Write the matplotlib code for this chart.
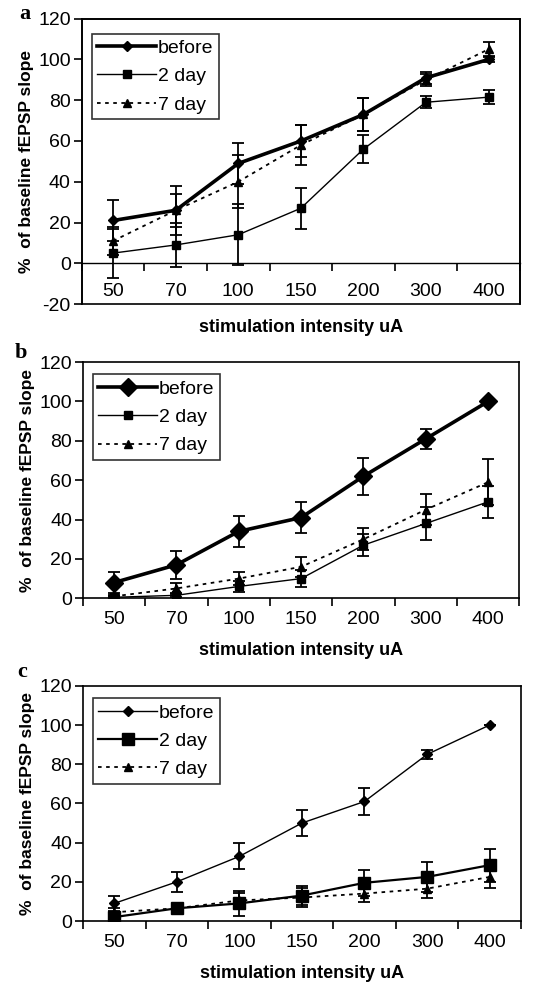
import matplotlib
matplotlib.use("Agg")
import matplotlib.pyplot as plt
import numpy as np

plt.rcParams['font.family'] = ['Liberation Sans', 'DejaVu Sans']
plt.rcParams['axes.unicode_minus'] = False

intensity = ['50', '70', '100', '150', '200', '300', '400']

# panel a
a_before = [21, 26, 49, 60, 73, 91, 100]
a_before_err = [10, 12, 10, 8, 8, 3, 1]
a_2day = [5, 9, 14, 27, 56, 79, 81.5]
a_2day_err = [12, 11, 15, 10, 7, 3, 3.5]
a_7day = [11, 26, 40, 58, 73, 90, 105]
a_7day_err = [7, 8, 13, 10, 8, 3, 3.5]

# panel b
b_before = [8, 17, 34, 41, 62, 81, 100]
b_before_err = [5.5, 7, 8, 8, 9.5, 5, 0]
b_2day = [0.5, 1.5, 6, 10, 27, 38, 49]
b_2day_err = [0.5, 1, 3, 4.3, 5.7, 8.2, 8.2]
b_7day = [1, 5, 10, 16, 30, 45, 59]
b_7day_err = [0.5, 3, 3.4, 5, 5.5, 8, 11.6]

# panel c
c_before = [9, 20, 33, 50, 61, 85, 100]
c_before_err = [3.7, 5, 6.6, 6.7, 6.8, 2.5, 0]
c_2day = [2, 6.5, 9, 13, 19.5, 22.5, 28.5]
c_2day_err = [2, 1, 6.4, 5, 6.5, 7.6, 8.5]
c_7day = [4.5, 6.5, 10.5, 12, 14, 16.5, 22.5]
c_7day_err = [2, 1, 4, 5, 4.3, 4.6, 5.5]

labels = ['before', '2 day', '7 day']


def draw_panel(ax, series, styles, ymin, xlabelpad):
    x = np.arange(len(intensity))
    for (y, err), (lw, marker, ms, ls), lab in zip(series, styles, labels):
        ax.errorbar(x, y, yerr=err, fmt='none', ecolor='black',
                    capsize=4, elinewidth=1.3, capthick=1.3)
        ax.plot(x, y, color='black', lw=lw, ls=ls, marker=marker, ms=ms, label=lab)

    ax.set_xlim(-0.5, len(intensity) - 0.5)
    ax.set_ylim(ymin, 120)
    ax.set_yticks(np.arange(ymin, 121, 20))
    ax.set_xticks(x)
    ax.set_xticklabels(intensity)
    ax.set_xticks(np.arange(-0.5, len(intensity), 1), minor=True)
    ax.tick_params(axis='x', which='major', length=0, labelsize=14, pad=9)
    ax.tick_params(axis='x', which='minor', length=6, width=1.2, direction='out')
    ax.tick_params(axis='y', length=6, width=1.2, labelsize=14, pad=2)

    for s in ax.spines.values():
        s.set_linewidth(1.2)
    if ymin < 0:
        ax.spines['bottom'].set_position(('data', 0))
        ax.spines['bottom'].set_linewidth(1.0)
        ax.patch.set_edgecolor('black')
        ax.patch.set_linewidth(1.2)
        ax.tick_params(axis='x', which='major', pad=14)

    ax.set_ylabel('%  of baseline fEPSP slope', fontsize=12.5, fontweight='bold', labelpad=3)
    ax.set_xlabel('stimulation intensity uA', fontsize=13, fontweight='bold',
                  labelpad=xlabelpad)

    leg = ax.legend(loc='upper left', fontsize=14, frameon=True, fancybox=False,
                    edgecolor='black', handlelength=3.0, handletextpad=0.1,
                    borderpad=0.3, labelspacing=0.55, borderaxespad=0,
                    bbox_to_anchor=(0.022, 0.948))
    leg.get_frame().set_linewidth(1.2)


fig = plt.figure(figsize=(5.46, 9.84), dpi=100)
ax_a = fig.add_axes([0.150, 0.691, 0.802, 0.290])
ax_b = fig.add_axes([0.152, 0.392, 0.799, 0.240])
ax_c = fig.add_axes([0.152, 0.064, 0.802, 0.239])

draw_panel(ax_a,
           [(a_before, a_before_err), (a_2day, a_2day_err), (a_7day, a_7day_err)],
           [(2.6, 'D', 5, '-'), (1.0, 's', 6, '-'), (1.3, '^', 6, (0, (2, 2.5)))],
           -20, 14)
draw_panel(ax_b,
           [(b_before, b_before_err), (b_2day, b_2day_err), (b_7day, b_7day_err)],
           [(2.6, 'D', 9, '-'), (1.0, 's', 6, '-'), (1.3, '^', 6, (0, (2, 2.5)))],
           0, 10)
draw_panel(ax_c,
           [(c_before, c_before_err), (c_2day, c_2day_err), (c_7day, c_7day_err)],
           [(1.0, 'D', 5, '-'), (1.6, 's', 8, '-'), (1.3, '^', 6, (0, (2, 2.5)))],
           0, 10.5)

# panel letters
for letter, (px, py) in zip('abc', [(25, 14), (21, 353), (22, 672)]):
    fig.text(px / 546, 1 - py / 984, letter, fontsize=16, fontweight='bold',
             family=['Liberation Serif', 'DejaVu Serif'], ha='center', va='center')

fig.savefig('out.png', dpi=100)
